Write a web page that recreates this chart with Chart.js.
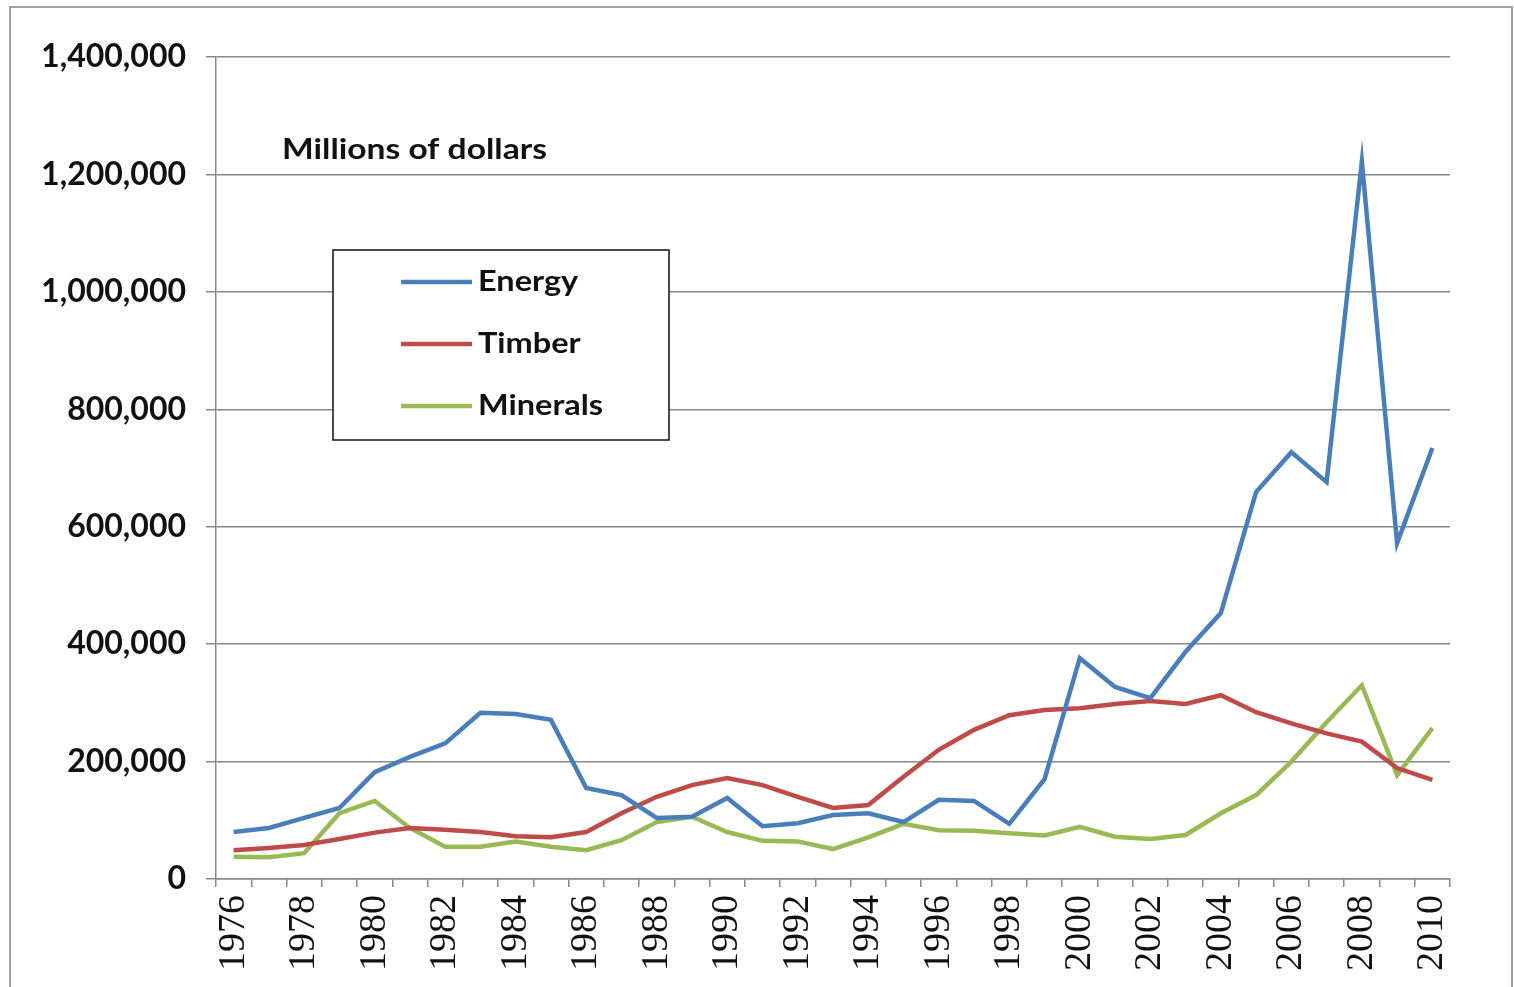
<!DOCTYPE html>
<html>
<head>
<meta charset="utf-8">
<script src="https://cdn.jsdelivr.net/npm/chart.js@4/dist/chart.umd.min.js"></script>
<style>
  html, body { margin: 0; padding: 0; background: #fff; }
  #wrap { width: 1514px; height: 987px; position: relative; }
</style>
</head>
<body>
<div id="wrap"><canvas id="c" width="1514" height="987"></canvas></div>
<script>
const years = ['1976','1977','1978','1979','1980','1981','1982','1983','1984','1985',
  '1986','1987','1988','1989','1990','1991','1992','1993','1994','1995',
  '1996','1997','1998','1999','2000','2001','2002','2003','2004','2005',
  '2006','2007','2008','2009','2010'];

const energy = [80000, 87000, 104000, 121000, 182000, 208000, 231000, 283000, 281000, 271000,
  155000, 143000, 104000, 106000, 138000, 90000, 95000, 109000, 112000, 97000,
  135000, 133000, 94000, 170000, 376000, 327000, 308000, 387000, 453000, 659000,
  727000, 676000, 1222000, 572000, 734000];

const timber = [49000, 53000, 58000, 68000, 79000, 87000, 84000, 80000, 73000, 71000,
  80000, 112000, 140000, 160000, 172000, 160000, 140000, 121000, 126000, 174000,
  220000, 254000, 279000, 288000, 291000, 298000, 303000, 298000, 313000, 284000,
  265000, 248000, 234000, 189000, 169000];

const minerals = [38000, 37000, 44000, 112000, 133000, 87000, 55000, 55000, 64000, 55000,
  49000, 66000, 97000, 106000, 80000, 65000, 64000, 51000, 71000, 94000,
  83000, 82000, 78000, 74000, 89000, 72000, 68000, 75000, 112000, 143000,
  200000, 267000, 330000, 177000, 257000];

const seriesNames = ['Energy', 'Timber', 'Minerals'];
const seriesColors = ['#4A7EBB', '#BE4B48', '#98B954'];
const yTicks = { min: 0, max: 1400000, step: 200000 };
const unitLabel = 'Millions of dollars';

function stretchedText(ctx, text, x, y, sx) {
  ctx.save();
  ctx.translate(x, y);
  ctx.scale(sx, 1);
  ctx.fillText(text, 0, 0);
  ctx.restore();
}

const decorPlugin = {
  id: 'decor',
  beforeDraw(chart) {
    const ctx = chart.ctx;
    ctx.save();
    ctx.fillStyle = '#fff';
    ctx.fillRect(0, 0, chart.width, chart.height);
    ctx.strokeStyle = '#a0a0a0';
    ctx.lineWidth = 2;
    ctx.strokeRect(10, 7, 1502, 1000);
    ctx.restore();
  },
  afterDraw(chart) {
    const ctx = chart.ctx;
    const ca = chart.chartArea;
    ctx.save();
    // unit label
    ctx.fillStyle = '#111';
    ctx.font = 'bold 28px Lato';
    ctx.textBaseline = 'middle';
    ctx.textAlign = 'left';
    stretchedText(ctx, unitLabel, ca.left + 66, 150, 1.2);
    // legend box
    const bx = 333, by = 250, bw = 336, bh = 190;
    ctx.fillStyle = '#fff';
    ctx.fillRect(bx, by, bw, bh);
    ctx.strokeStyle = '#111';
    ctx.lineWidth = 1.5;
    ctx.strokeRect(bx, by, bw, bh);
    chart.data.datasets.forEach((ds, i) => {
      const y = 282 + i * 62;
      ctx.strokeStyle = ds.borderColor;
      ctx.lineWidth = 4.5;
      ctx.beginPath();
      ctx.moveTo(401, y);
      ctx.lineTo(472, y);
      ctx.stroke();
      ctx.fillStyle = '#111';
      ctx.font = 'bold 28px Lato';
      ctx.textBaseline = 'middle';
      stretchedText(ctx, ds.label, 478, y, 1.16);
    });
    ctx.restore();
  }
};

new Chart(document.getElementById('c'), {
  type: 'line',
  data: {
    labels: years,
    datasets: [energy, timber, minerals].map((d, i) => ({
      label: seriesNames[i],
      data: d,
      borderColor: seriesColors[i],
      backgroundColor: seriesColors[i],
      borderWidth: 4.5,
      pointRadius: 0,
      tension: 0,
      fill: false
    }))
  },
  options: {
    responsive: false,
    animation: false,
    layout: { padding: { left: 0, top: 57, right: 64, bottom: 0 } },
    plugins: { legend: { display: false }, tooltip: { enabled: false }, title: { display: false } },
    scales: {
      x: {
        type: 'category',
        offset: true,
        grid: { display: true, drawOnChartArea: false, drawTicks: true, tickLength: 8, offset: true, color: '#888', lineWidth: 1.5 },
        border: { display: true, color: '#888', width: 1.5 },
        ticks: {
          autoSkip: false,
          minRotation: 90,
          maxRotation: 90,
          padding: 8,
          color: '#111',
          font: { family: 'Liberation Serif', size: 38, weight: 'normal' },
          callback: function(v, idx) { return idx % 2 === 0 ? this.getLabelForValue(v) : ''; }
        },
        afterFit(scale) { scale.height = 108; }
      },
      y: {
        min: yTicks.min,
        max: yTicks.max,
        grid: { color: '#888', lineWidth: 1.5, drawTicks: true, tickLength: 10 },
        border: { display: true, color: '#888', width: 1.5 },
        ticks: {
          stepSize: yTicks.step,
          padding: 20,
          color: '#111',
          font: { family: 'Lato', size: 32, weight: 'bold' },
          callback: (v) => v.toLocaleString('en-US')
        },
        afterFit(scale) { scale.width = 216; }
      }
    }
  },
  plugins: [decorPlugin]
});
</script>
</body>
</html>
